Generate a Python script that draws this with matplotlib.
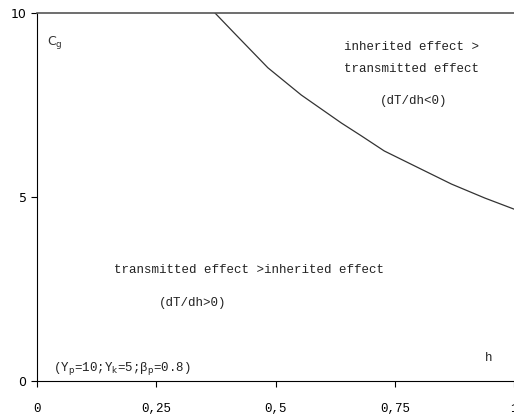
import numpy as np
import matplotlib
matplotlib.use('Agg')
import matplotlib.pyplot as plt

# boundary curve
h_vals = [0.373, 0.413, 0.484, 0.554, 0.638, 0.680, 0.728, 0.800, 0.869, 0.939, 1.0]
cg_vals = [10.0, 9.46, 8.51, 7.77, 7.01, 6.66, 6.25, 5.79, 5.35, 4.97, 4.67]

x_ticks = [0, 0.25, 0.5, 0.75, 1]
x_labels = ['0', '0,25', '0,5', '0,75', '1']
y_ticks = [0, 5, 10]

mono = 'Liberation Mono'
txt = '#222222'

fig = plt.figure(figsize=(5.14, 4.17), dpi=100)
ax = fig.add_axes([0.072, 0.0863, 0.928, 0.8827])

ax.plot(h_vals, cg_vals, color='#333333', linewidth=0.9)

ax.set_xlim(0, 1)
ax.set_ylim(0, 10)
ax.set_xticks(x_ticks)
ax.set_xticklabels(x_labels, fontfamily=mono, fontsize=9)
ax.set_yticks(y_ticks)
ax.tick_params(axis='y', labelsize=9, length=4, width=0.8)
ax.tick_params(axis='x', length=4, width=0.8, pad=12)

ax.spines['right'].set_visible(False)
ax.spines['top'].set_color('#555555')
ax.spines['top'].set_linewidth(1.2)

ax.text(0.021, 9.2, r'C$_\mathrm{g}$', fontsize=9, ha='left', va='center', color='#333333')
ax.text(0.785, 9.08, 'inherited effect >', fontfamily=mono, fontsize=9, ha='center', va='center', color=txt)
ax.text(0.785, 8.48, 'transmitted effect', fontfamily=mono, fontsize=9, ha='center', va='center', color=txt)
ax.text(0.79, 7.6, '(dT/dh<0)', fontfamily=mono, fontsize=9, ha='center', va='center', color=txt)
ax.text(0.444, 3.02, 'transmitted effect >inherited effect', fontfamily=mono, fontsize=9,
        ha='center', va='center', color=txt)
ax.text(0.326, 2.12, '(dT/dh>0)', fontfamily=mono, fontsize=9, ha='center', va='center', color=txt)
ax.text(0.947, 0.62, 'h', fontfamily=mono, fontsize=9, ha='center', va='center', color=txt)
ax.text(0.034, 0.35, r'(Y$_\mathrm{p}$=10;Y$_\mathrm{k}$=5;β$_\mathrm{p}$=0.8)',
        fontfamily=mono, fontsize=9, ha='left', va='center', color=txt)

fig.savefig('out.png', dpi=100)
